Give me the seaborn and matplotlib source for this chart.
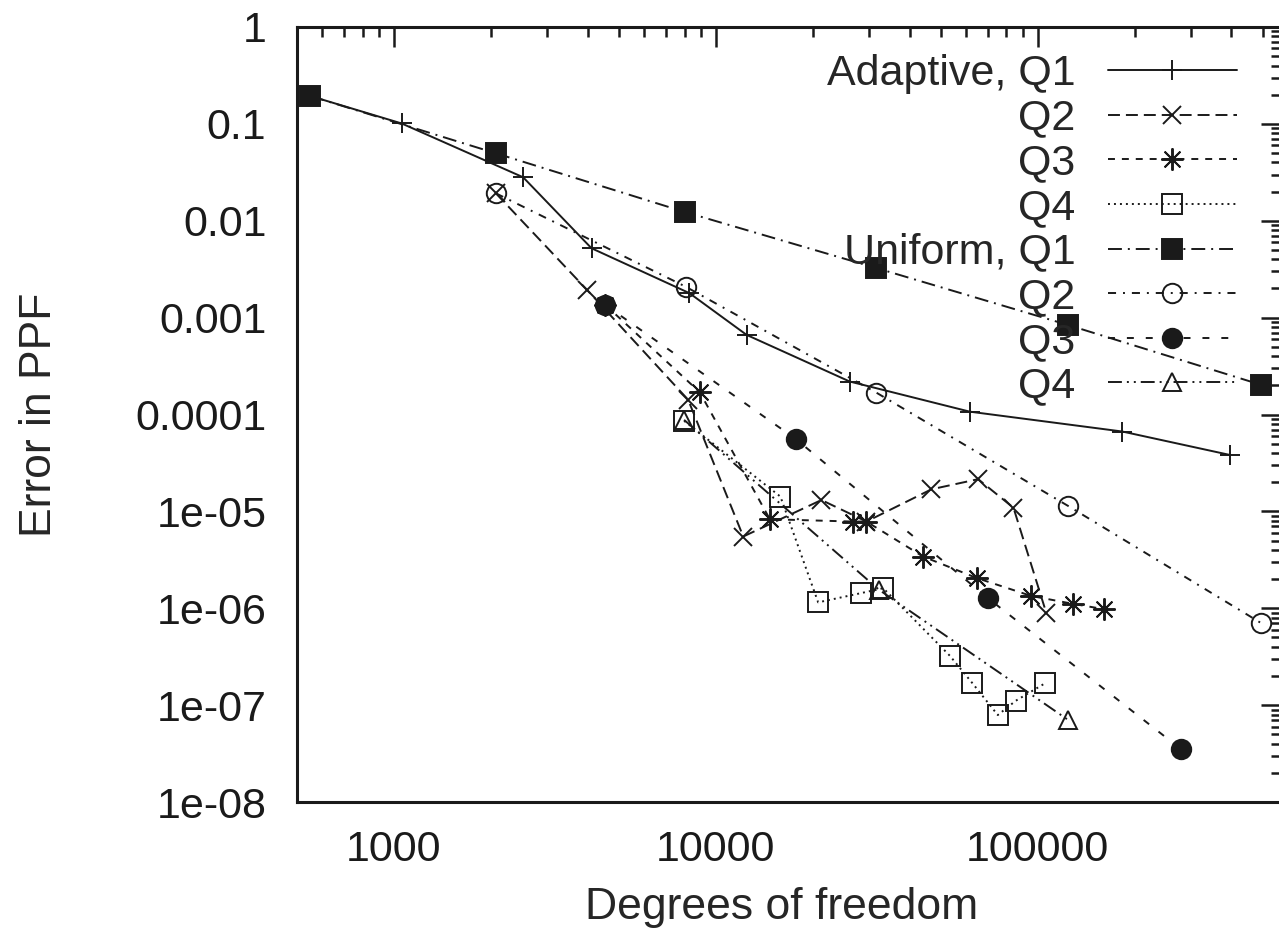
import matplotlib
matplotlib.use('Agg')
import matplotlib.pyplot as plt
import seaborn as sns
from matplotlib.ticker import FixedLocator, FixedFormatter, LogLocator, NullFormatter

# data (degrees of freedom vs error)
adaptive_q1_dof = [550, 1057, 2521, 4111, 8280, 12470, 26060, 61500, 183300, 394500]
adaptive_q1_err = [0.194, 0.101, 0.0281, 0.0052, 0.00179, 0.000663, 0.000219, 0.000107, 6.67e-5, 3.83e-5]

adaptive_q2_dof = [2074, 3983, 8205, 12170, 21290, 29380, 46770, 65300, 84100, 106400]
adaptive_q2_err = [0.0192, 0.00193, 1.42e-4, 5.5e-6, 1.31e-5, 7.85e-6, 1.69e-5, 2.15e-5, 1.09e-5, 8.9e-7]

adaptive_q3_dof = [4540, 8915, 14720, 26670, 29380, 44030, 64700, 95500, 128800, 160300]
adaptive_q3_err = [0.00135, 1.70e-4, 8.3e-6, 7.85e-6, 7.85e-6, 3.42e-6, 2.05e-6, 1.34e-6, 1.11e-6, 9.8e-7]

adaptive_q4_dof = [7972, 15880, 20800, 28180, 33130, 53360, 62640, 75170, 85500, 105700]
adaptive_q4_err = [8.6e-5, 1.42e-5, 1.15e-6, 1.43e-6, 1.61e-6, 3.23e-7, 1.69e-7, 7.9e-8, 1.11e-7, 1.69e-7]

uniform_q1_dof = [550, 2074, 8020, 31420, 124200, 495500]
uniform_q1_err = [0.194, 0.0497, 0.0123, 0.00326, 0.00084, 0.000202]

uniform_q2_dof = [2074, 8054, 31550, 124200, 495500]
uniform_q2_err = [0.0192, 0.00209, 1.68e-4, 1.14e-5, 7.0e-7]

uniform_q3_dof = [4540, 17700, 70100, 279000]
uniform_q3_err = [0.00135, 5.6e-5, 1.27e-6, 3.5e-8]

uniform_q4_dof = [7972, 32150, 124200]
uniform_q4_err = [8.8e-5, 1.55e-6, 7.05e-8]

labels = ['Adaptive, Q1', 'Q2', 'Q3', 'Q4', 'Uniform, Q1', 'Q2', 'Q3', 'Q4']
x_ticks = [1000, 10000, 100000]
x_tick_labels = ['1000', '10000', '100000']
y_ticks = [1, 0.1, 0.01, 0.001, 0.0001, 1e-5, 1e-6, 1e-7, 1e-8]
y_tick_labels = ['1', '0.1', '0.01', '0.001', '0.0001', '1e-05', '1e-06', '1e-07', '1e-08']

sns.set_theme(style='white')
plt.rcParams['font.family'] = ['Liberation Sans', 'DejaVu Sans']
plt.rcParams['lines.scale_dashes'] = False

fig = plt.figure(figsize=(12.79, 9.35), dpi=100)
ax = fig.add_axes([297 / 1279, 133 / 935, 984 / 1279, 775 / 935])

series = [
  (adaptive_q1_dof, adaptive_q1_err, '-', '+', 'k', 15),
  (adaptive_q2_dof, adaptive_q2_err, (0, (8.6, 4.3)), 'x', 'k', 13),
  (adaptive_q3_dof, adaptive_q3_err, (0, (5, 5)), (8, 2, 0), 'k', 16),
  (adaptive_q4_dof, adaptive_q4_err, (0, (1.4, 2.9)), 's', 'none', 14),
  (uniform_q1_dof, uniform_q1_err, (0, (10, 4.3, 1.4, 4.3)), 's', 'k', 14),
  (uniform_q2_dof, uniform_q2_err, (0, (5.8, 5, 1.4, 5)), 'o', 'none', 14),
  (uniform_q3_dof, uniform_q3_err, (0, (5, 8.6)), 'o', 'k', 14),
  (uniform_q4_dof, uniform_q4_err, (0, (10, 3.6, 1.4, 3.6, 1.4, 3.6)), '^', 'none', 13),
]

for (xs, ys, ls, mk, fc, ms), lab in zip(series, labels):
  sns.lineplot(x=xs, y=ys, ax=ax, sort=False, estimator=None,
               color='k', linestyle=ls, linewidth=1.4,
               marker=mk, markersize=ms, markerfacecolor=fc,
               markeredgecolor='k', markeredgewidth=1.4, label=lab)

ax.set_xscale('log')
ax.set_yscale('log')
ax.set_xlim(500, 570000)
ax.set_ylim(1e-8, 1)

ax.xaxis.set_major_locator(FixedLocator(x_ticks))
ax.xaxis.set_major_formatter(FixedFormatter(x_tick_labels))
ax.yaxis.set_major_locator(FixedLocator(y_ticks))
ax.yaxis.set_major_formatter(FixedFormatter(y_tick_labels))
ax.xaxis.set_minor_locator(LogLocator(base=10, subs=range(2, 10), numticks=20))
ax.yaxis.set_minor_locator(LogLocator(base=10, subs=range(2, 10), numticks=20))
ax.xaxis.set_minor_formatter(NullFormatter())
ax.yaxis.set_minor_formatter(NullFormatter())

ax.tick_params(which='both', direction='in', top=True, right=True, colors='k',
               labelsize=31, width=1.8)
ax.tick_params(which='major', length=14.5)
ax.tick_params(which='minor', length=7)
ax.tick_params(axis='x', which='major', pad=20)
ax.tick_params(axis='y', which='major', pad=22)
for sp in ax.spines.values():
  sp.set_color('k')
  sp.set_linewidth(2.2)

ax.set_xlabel('Degrees of freedom', fontsize=32, va='top')
ax.set_ylabel('Error in PPF', fontsize=32)
ax.xaxis.set_label_coords(0.492, -0.11)
ax.yaxis.set_label_coords(-0.241, 0.5)

leg = ax.legend(loc='upper right', bbox_to_anchor=(1 - 44 / 984, 1 - 27 / 775),
                markerfirst=False, frameon=False, fontsize=31,
                handlelength=3.0, handletextpad=0.75, labelspacing=0.108,
                borderpad=0, borderaxespad=0)

fig.savefig('out.png', dpi=100)
